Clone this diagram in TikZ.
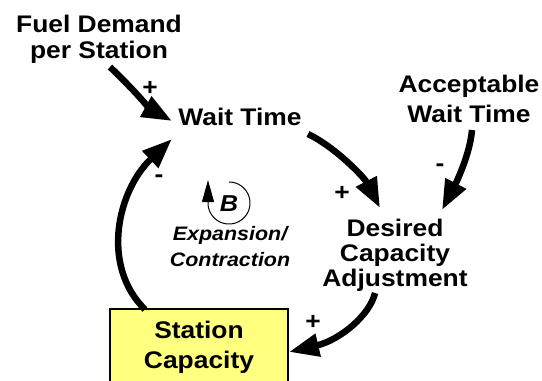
\documentclass[tikz,border=0pt]{standalone}
\usepackage{fontspec}
\setmainfont{Liberation Sans}[FakeStretch=1.1]
\usetikzlibrary{arrows.meta}
\definecolor{stockfill}{RGB}{255,255,128}
\tikzset{
  lbl/.style={font=\bfseries\fontsize{24}{26}\selectfont, align=center, inner sep=0pt},
  sgn/.style={font=\bfseries\fontsize{24}{26}\selectfont, inner sep=0pt},
  loopname/.style={font=\bfseries\itshape\fontsize{19.5}{26}\selectfont, align=center, inner sep=0pt},
  stock/.style={draw=black, line width=1.5pt, fill=stockfill, minimum width=178pt, minimum height=77pt,
    font=\bfseries\fontsize{24}{30}\selectfont, align=center, inner sep=0pt},
  link/.style={line width=6.5pt, -{Triangle[length=30pt, width=22pt]}},
}
\begin{document}
\begin{tikzpicture}[x=1pt, y=-1pt]
  \useasboundingbox (0,0) rectangle (542,381);
  \clip (0,0) rectangle (542,381);

  % variables
  \node[lbl, font=\bfseries\fontsize{24}{26}\selectfont] (fuel) at (99,39) {Fuel Demand\\per Station};
  \node[lbl] (wait) at (240,117) {Wait Time};
  \node[lbl, font=\bfseries\fontsize{24}{30}\selectfont] (accept) at (469,99) {Acceptable\\Wait Time};
  \node[lbl, font=\bfseries\fontsize{24}{25}\selectfont] (desired) at (395,255) {Desired\\Capacity\\Adjustment};
  \node[stock] (cap) at (199,347.5) {Station\\Capacity};

  % loop marker: clockwise circle around the loop letter
  \node[font=\bfseries\itshape\fontsize{23}{26}\selectfont, inner sep=0pt] (bl) at (229,204) {B};
  \coordinate (bc) at (229,203);
  \node[loopname] (loop) at (230,246.5) {Expansion/\\Contraction};
  \draw[line width=1pt, -{Triangle[length=22pt, width=12pt]}]
    plot[domain=90:-180, samples=60, smooth] ({229+21*cos(\x)}, {203-21*sin(\x)}) -- (208,180);

  % causal links
  \draw[link] ([shift={(11,28)}]fuel.center) .. controls (128,84) and (152,110) .. ([shift={(-68,4)}]wait.center);
  \draw[link] ([shift={(-54,-38)}]cap.center) .. controls (100,265) and (118,190) .. ([shift={(-68,22)}]wait.center);
  \draw[link] ([shift={(68,17)}]wait.center) .. controls (335,147) and (364,177) .. ([shift={(-15,-47)}]desired.center);
  \draw[link] ([shift={(3,31)}]accept.center) .. controls (470,155) and (455,185) .. ([shift={(47,-45)}]desired.center);
  \draw[link] ([shift={(-20,38)}]desired.center) .. controls (370,315) and (340,340) .. ([shift={(90,4.5)}]cap.center);

  % polarities
  \node[sgn] (s1) at (150,88) {+};
  \node[sgn] (s2) at (159,179) {-};
  \node[sgn] (s3) at (342,193) {+};
  \node[sgn] (s4) at (440,168) {-};
  \node[sgn] (s5) at (313,322) {+};
\end{tikzpicture}
\end{document}
